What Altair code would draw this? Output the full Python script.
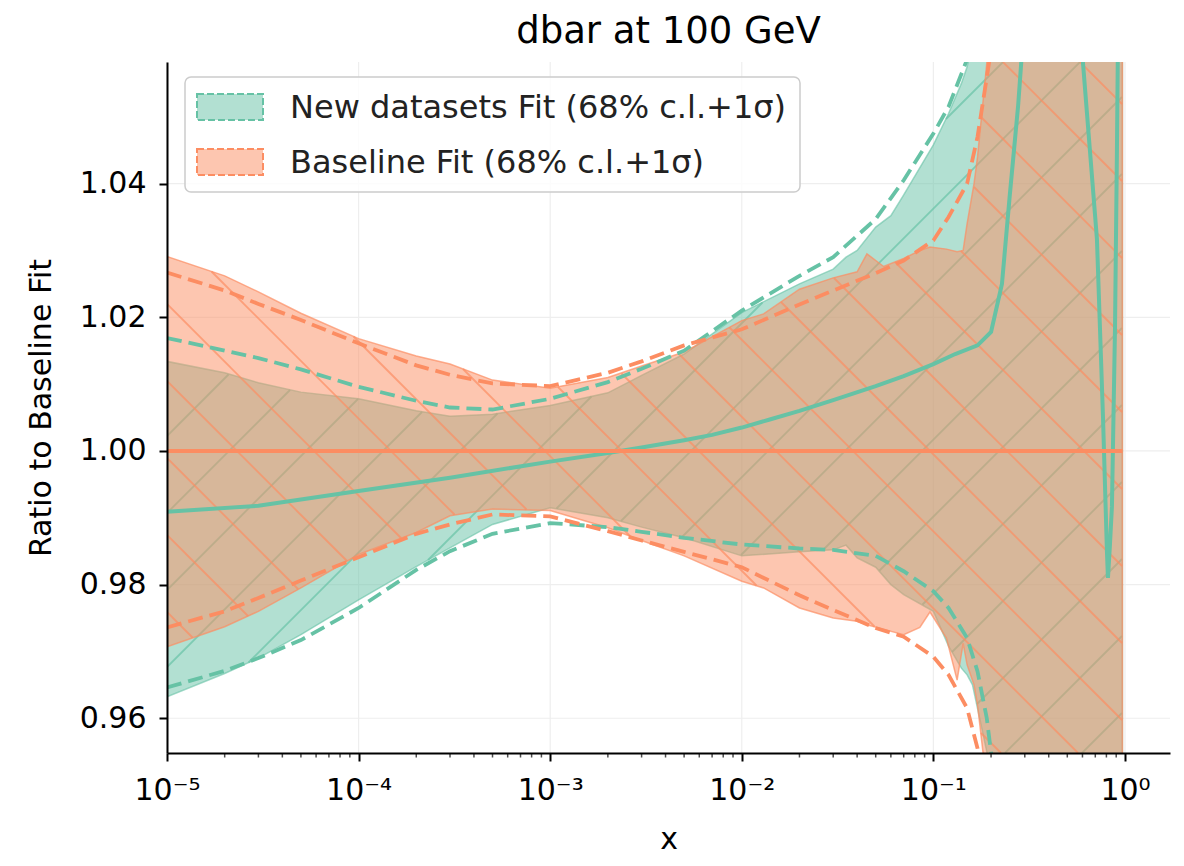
import altair as alt
import numpy as np
import pandas as pd

# ---------------- text ----------------
TITLE = "dbar at 100 GeV"
X_TITLE = "x"
Y_TITLE = "Ratio to Baseline Fit"
SERIES = ["New datasets Fit (68% c.l.+1σ)", "Baseline Fit (68% c.l.+1σ)"]
GREEN = "#66c2a5"
ORANGE = "#fc8d62"
FONT = "DejaVu Sans"

# ---------------- axes ----------------
X_MAJOR = [1e-5, 1e-4, 1e-3, 1e-2, 1e-1, 1.0]
X_LABELS = ["10⁻⁵", "10⁻⁴", "10⁻³", "10⁻²", "10⁻¹", "10⁰"]
Y_TICKS = [0.96, 0.98, 1.00, 1.02, 1.04]
X_DOMAIN = [1e-5, 1.718]
Y_DOMAIN = [0.9548, 1.0582]

# ---------------- Baseline fit band (68% c.l.) ----------------
x_ob = [1e-5, 2e-5, 3e-5, 5e-5, 1e-4, 2e-4, 3e-4, 5e-4, 1e-3, 2e-3, 3e-3, 5e-3,
        1e-2, 1.3e-2, 2e-2, 3e-2, 4e-2, 4.5e-2, 5.5e-2, 7e-2, 8.5e-2, 9.6e-2,
        0.117, 0.133, 0.143, 0.15, 0.163, 0.17, 0.19, 0.2, 0.25, 0.97]
ob_up = [1.0291, 1.0262, 1.0238, 1.0206, 1.0168, 1.0142, 1.0130, 1.0106, 1.0094, 1.0110,
         1.0127, 1.0148, 1.0195, 1.0205, 1.0242, 1.0259, 1.0268, 1.0295, 1.0276, 1.0288,
         1.0300, 1.0305, 1.0302, 1.0298, 1.0300, 1.0340, 1.0400, 1.0440, 1.0580, 1.0750,
         1.2, 1.2]
ob_lo = [0.9707, 0.9737, 0.9760, 0.9795, 0.9845, 0.9878, 0.9903, 0.9913, 0.9911, 0.9885,
         0.9866, 0.9843, 0.9805, 0.9795, 0.9765, 0.9750, 0.9745, 0.9740, 0.9733, 0.9725,
         0.9736, 0.9759, 0.9720, 0.9657, 0.9712, 0.9680, 0.9650, 0.9620, 0.9500, 0.9400,
         0.8, 0.8]

# ---------------- New datasets fit band (68% c.l.) ----------------
x_gb = [1e-5, 2e-5, 3e-5, 5e-5, 1e-4, 2e-4, 3e-4, 5e-4, 1e-3, 2e-3, 3e-3, 5e-3,
        1e-2, 2e-2, 3e-2, 3.5e-2, 4e-2, 5e-2, 6e-2, 7e-2, 0.1, 0.12, 0.14, 0.15,
        0.16, 0.2, 0.25, 0.97]
gb_up = [1.0134, 1.0117, 1.0102, 1.0088, 1.0078, 1.0060, 1.0052, 1.0055, 1.0068, 1.0087,
         1.0113, 1.0145, 1.0207, 1.0250, 1.0272, 1.0290, 1.0300, 1.0335, 1.0352, 1.0383,
         1.0458, 1.0505, 1.0550, 1.0575, 1.0610, 1.0800, 1.2, 1.2]
gb_lo = [0.9632, 0.9667, 0.9690, 0.9725, 0.9777, 0.9827, 0.9855, 0.9890, 0.9915, 0.9900,
         0.9886, 0.9870, 0.9843, 0.9849, 0.9852, 0.9859, 0.9840, 0.9826, 0.9800, 0.9785,
         0.9760, 0.9708, 0.9675, 0.9665, 0.9650, 0.9520, 0.8, 0.8]

# ---------------- Baseline fit 1-sigma (dashed) ----------------
x_od = [1e-5, 2e-5, 3e-5, 5e-5, 1e-4, 2e-4, 3e-4, 5e-4, 1e-3, 2e-3, 3e-3, 5e-3,
        1e-2, 2e-2, 3e-2, 5e-2, 7e-2, 0.1, 0.12, 0.15, 0.17, 0.2, 0.23]
od_up = [1.0267, 1.0240, 1.0220, 1.0196, 1.0161, 1.0128, 1.0114, 1.0101, 1.0097, 1.0117,
         1.0134, 1.0158, 1.0182, 1.0219, 1.0240, 1.0266, 1.0285, 1.0315, 1.0350, 1.0400,
         1.0470, 1.0600, 1.0800]
od_lo = [0.9736, 0.9760, 0.9780, 0.9806, 0.9841, 0.9876, 0.9890, 0.9905, 0.9902, 0.9880,
         0.9866, 0.9849, 0.9826, 0.9784, 0.9762, 0.9735, 0.9722, 0.9692, 0.9665, 0.9615,
         0.9555, 0.9400, 0.9200]

# ---------------- New datasets fit 1-sigma (dashed) ----------------
x_gd = [1e-5, 2e-5, 3e-5, 5e-5, 1e-4, 2e-4, 3e-4, 5e-4, 1e-3, 2e-3, 3e-3, 5e-3,
        1e-2, 2e-2, 3e-2, 5e-2, 7e-2, 0.1, 0.12, 0.15, 0.17, 0.19, 0.21, 0.25]
gd_up = [1.0169, 1.0150, 1.0139, 1.0122, 1.0096, 1.0075, 1.0065, 1.0062, 1.0078, 1.0103,
         1.0123, 1.0150, 1.0210, 1.0262, 1.0290, 1.0347, 1.0405, 1.0475, 1.0515, 1.0586,
         1.0650, 1.0700, 1.0800, 1.1000]
gd_lo = [0.9646, 0.9671, 0.9690, 0.9717, 0.9765, 0.9822, 0.9850, 0.9876, 0.9892, 0.9886,
         0.9879, 0.9870, 0.9860, 0.9854, 0.9852, 0.9843, 0.9820, 0.9790, 0.9765, 0.9720,
         0.9670, 0.9600, 0.9500, 0.9300]

# ---------------- central values ----------------
x_gc = [1e-5, 3e-5, 1e-4, 3e-4, 1e-3, 2e-3, 3e-3, 5e-3, 7e-3, 1e-2, 1.4e-2, 2e-2, 3e-2,
        5e-2, 7e-2, 0.1, 0.13, 0.17, 0.2, 0.228, 0.25, 0.277, 0.294, 0.35, 0.45, 0.55,
        0.604, 0.714, 0.768, 0.805, 0.815, 0.835, 0.855, 0.887, 0.908, 0.925]
gc = [0.9909, 0.9918, 0.9940, 0.9960, 0.9984, 0.9997, 1.0005, 1.0016, 1.0024, 1.0035,
      1.0047, 1.0060, 1.0076, 1.0097, 1.0112, 1.0130, 1.0145, 1.0158, 1.0178, 1.0250,
      1.0380, 1.0517, 1.0620, 1.1000, 1.1300, 1.1000, 1.0580, 1.0317, 1.0050, 0.9850,
      0.9810, 0.9860, 0.9917, 1.0183, 1.0450, 1.0700]
x_oc = [1e-5, 0.97]
oc = [1.0, 1.0]

# ---------------- layout ----------------
W, H = 1003, 691
LXMIN, LXMAX = np.log10(X_DOMAIN[0]), np.log10(X_DOMAIN[1])

xs = alt.Scale(type="log", domain=X_DOMAIN, nice=False)
ys = alt.Scale(domain=Y_DOMAIN, nice=False, zero=False)


def hatch(xb, lo, up, slope, c0, step):
    """Hatch segments (screen-space diagonals) clipped to a band."""
    lxb = np.log10(np.array(xb))
    lo = np.array(lo)
    up = np.array(up)
    u = np.arange(0.0, W + 0.25, 0.5)
    lx = LXMIN + u / W * (LXMAX - LXMIN)
    lo_i = np.interp(lx, lxb, lo)
    up_i = np.interp(lx, lxb, up)
    inx = (lx >= lxb[0]) & (lx <= lxb[-1])
    if slope > 0:
        cmin, cmax = -W - step, H + step
    else:
        cmin, cmax = -step, W + H + step
    k0 = int(np.floor((cmin - c0) / step))
    k1 = int(np.ceil((cmax - c0) / step))
    rows = []
    for k in range(k0, k1 + 1):
        c = c0 + k * step
        v = slope * u + c
        yv = Y_DOMAIN[1] - v / H * (Y_DOMAIN[1] - Y_DOMAIN[0])
        ok = inx & (v >= 0) & (v <= H) & (yv >= lo_i) & (yv <= up_i)
        idx = np.flatnonzero(ok)
        if idx.size == 0:
            continue
        br = np.flatnonzero(np.diff(idx) > 1)
        starts = np.r_[idx[0], idx[br + 1]]
        ends = np.r_[idx[br], idx[-1]]
        for s, e in zip(starts, ends):
            if e - s < 2:
                continue
            rows.append({"x0": 10 ** lx[s], "x1": 10 ** lx[e], "y0": yv[s], "y1": yv[e]})
    return pd.DataFrame(rows)


def band_df(xb, lo, up):
    return pd.DataFrame({"x": xb, "lo": lo, "up": up})


def pair_df(xb, lo, up):
    return pd.concat([
        pd.DataFrame({"x": xb, "y": up, "k": "up"}),
        pd.DataFrame({"x": xb, "y": lo, "k": "lo"}),
    ])


X0 = lambda f: alt.X(f, type="quantitative", scale=xs, axis=None)
Y0 = lambda f: alt.Y(f, type="quantitative", scale=ys, axis=None)

label_expr = "".join(
    f"abs(datum.value/{v!r} - 1) < 1e-6 ? '{t}' : " for v, t in zip(X_MAJOR, X_LABELS)) + "''"

AX = dict(tickColor="black", domainColor="black", domainWidth=2, tickWidth=2, tickSize=8,
          labelFontSize=30, labelColor="black", labelFont=FONT, titleFontSize=30,
          titleFont=FONT, titleFontWeight="normal", titleColor="black", grid=False,
          zindex=1)

# grid lines + axes carriers
grid_y = alt.Chart(pd.DataFrame({"v": Y_TICKS})).mark_rule(
    color="#eeeeee", strokeWidth=1.2).encode(
    y=alt.Y("v:Q", scale=ys, title=Y_TITLE, axis=alt.Axis(
        orient="left", values=Y_TICKS, format=".2f", labelPadding=13, titlePadding=23,
        **AX)))

grid_x = alt.Chart(pd.DataFrame({"v": X_MAJOR})).mark_rule(
    color="#eeeeee", strokeWidth=1.2).encode(
    x=alt.X("v:Q", scale=xs, title=X_TITLE, axis=alt.Axis(
        orient="bottom", values=X_MAJOR, labelExpr=label_expr, labelPadding=14,
        labelFlush=False, labelOverlap=False, titlePadding=19, **AX)))

# minor ticks on the log axis
minor = [m * 10.0 ** d for d in range(-5, 0) for m in range(2, 10)]
minor_ticks = alt.Chart(pd.DataFrame({"v": minor})).mark_tick(
    color="black", thickness=1.5, size=4.5, orient="vertical").encode(
    x=X0("v"), y=alt.value(H + 2.25))

# bands
g_band = alt.Chart(band_df(x_gb, gb_lo, gb_up)).mark_area(
    clip=True, fill=GREEN, fillOpacity=0.5, stroke=GREEN, strokeWidth=1.5,
    strokeOpacity=0.6).encode(x=X0("x"), y=Y0("lo"), y2="up")
o_band = alt.Chart(band_df(x_ob, ob_lo, ob_up)).mark_area(
    clip=True, fill=ORANGE, fillOpacity=0.5, stroke=ORANGE, strokeWidth=1.5,
    strokeOpacity=0.7).encode(x=X0("x"), y=Y0("lo"), y2="up")

g_hatch = alt.Chart(hatch(x_gb, gb_lo, gb_up, -1, 1298, 77)).mark_rule(
    clip=True, color=GREEN, strokeWidth=1.8, opacity=0.7).encode(
    x=X0("x0"), x2="x1", y=Y0("y0"), y2="y1")
o_hatch = alt.Chart(hatch(x_ob, ob_lo, ob_up, 1, -451, 77)).mark_rule(
    clip=True, color=ORANGE, strokeWidth=1.8, opacity=0.7).encode(
    x=X0("x0"), x2="x1", y=Y0("y0"), y2="y1")

# lines
g_dash = alt.Chart(pair_df(x_gd, gd_lo, gd_up)).mark_line(
    clip=True, color=GREEN, strokeWidth=3.8, strokeDash=[15, 7]).encode(
    x=X0("x"), y=Y0("y"), detail="k:N")
o_dash = alt.Chart(pair_df(x_od, od_lo, od_up)).mark_line(
    clip=True, color=ORANGE, strokeWidth=3.8, strokeDash=[15, 7]).encode(
    x=X0("x"), y=Y0("y"), detail="k:N")
g_line = alt.Chart(pd.DataFrame({"x": x_gc, "y": gc})).mark_line(
    clip=True, color=GREEN, strokeWidth=4).encode(x=X0("x"), y=Y0("y"))
o_line = alt.Chart(pd.DataFrame({"x": x_oc, "y": oc})).mark_line(
    clip=True, color=ORANGE, strokeWidth=4).encode(x=X0("x"), y=Y0("y"))

# legend (inside plot, upper left)
one = pd.DataFrame({"a": [0]})
LEG_FS = 32
leg_box = alt.Chart(one).mark_rect(
    fill="white", fillOpacity=0.8, stroke="#cccccc", strokeWidth=1.5, cornerRadius=6
).encode(x=alt.value(18), x2=alt.value(633), y=alt.value(15), y2=alt.value(130))
leg_p1 = alt.Chart(one).mark_rect(
    fill=GREEN, fillOpacity=0.5, stroke=GREEN, strokeWidth=2, strokeDash=[7, 3]
).encode(x=alt.value(30), x2=alt.value(96), y=alt.value(32), y2=alt.value(58))
leg_p2 = alt.Chart(one).mark_rect(
    fill=ORANGE, fillOpacity=0.5, stroke=ORANGE, strokeWidth=2, strokeDash=[7, 3]
).encode(x=alt.value(30), x2=alt.value(96), y=alt.value(87), y2=alt.value(113))
leg_t1 = alt.Chart(one).mark_text(
    align="left", baseline="middle", fontSize=LEG_FS, font=FONT, color="#222222"
).encode(x=alt.value(123), y=alt.value(46), text=alt.value(SERIES[0]))
leg_t2 = alt.Chart(one).mark_text(
    align="left", baseline="middle", fontSize=LEG_FS, font=FONT, color="#222222"
).encode(x=alt.value(123), y=alt.value(101), text=alt.value(SERIES[1]))

# chart title (placed above the plot area)
title = alt.Chart(one).mark_text(
    align="center", baseline="alphabetic", fontSize=37, font=FONT, color="black"
).encode(x=alt.value(W / 2), y=alt.value(-19), text=alt.value(TITLE))

chart = alt.layer(
    grid_y, grid_x, g_band, g_hatch, o_band, o_hatch,
    g_line, g_dash, o_dash, o_line, minor_ticks,
    leg_box, leg_p1, leg_p2, leg_t1, leg_t2, title,
).resolve_axis(x="independent", y="independent").properties(
    width=W, height=H,
    padding={"left": 159, "top": 54, "right": 6, "bottom": 105},
    autosize=alt.AutoSizeParams(type="none"),
).configure(font=FONT).configure_view(strokeWidth=0)

chart.save("out.html", embed_options={"renderer": "svg", "actions": False})
